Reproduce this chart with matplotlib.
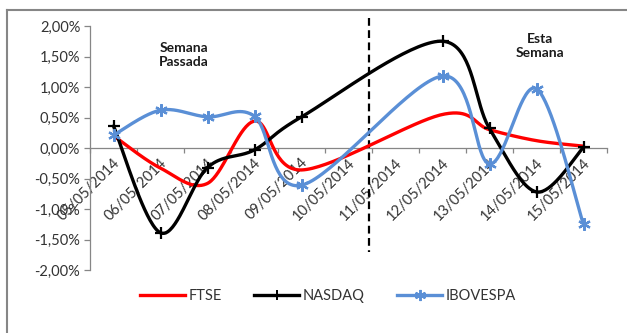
import numpy as np
import matplotlib
matplotlib.use("Agg")
import matplotlib.pyplot as plt
from matplotlib.lines import Line2D
from matplotlib.ticker import FuncFormatter, FixedLocator
import matplotlib.transforms as mtransforms

plt.rcParams['font.family'] = ['Lato', 'DejaVu Sans']

dates = ["05/05/2014", "06/05/2014", "07/05/2014", "08/05/2014", "09/05/2014",
         "10/05/2014", "11/05/2014", "12/05/2014", "13/05/2014", "14/05/2014",
         "15/05/2014"]
ftse = [0.20, -0.33, -0.58, 0.44, -0.36, None, None, 0.55, 0.30, 0.12, 0.03]
nasdaq = [0.36, -1.39, -0.32, -0.03, 0.51, None, None, 1.75, 0.32, -0.72, 0.01]
ibovespa = [0.21, 0.62, 0.51, 0.52, -0.61, None, None, 1.18, -0.26, 0.97, -1.25]

C_RED = "#FF0000"
C_BLK = "#000000"
C_BLU = "#5A8FD6"
GRAY = "#868686"
TXT = "#333333"


def smooth(xs, ys, n=40):
    pts = np.array(list(zip(xs, ys)), dtype=float)
    out = []
    for i in range(len(pts) - 1):
        p0 = pts[i - 1] if i > 0 else pts[i]
        p1 = pts[i]
        p2 = pts[i + 1]
        p3 = pts[i + 2] if i + 2 < len(pts) else pts[i + 1]
        c1 = p1 + (p2 - p0) / 6.0
        c2 = p2 - (p3 - p1) / 6.0
        t = np.linspace(0, 1, n)[:, None]
        seg = ((1 - t) ** 3) * p1 + 3 * ((1 - t) ** 2) * t * c1 + 3 * (1 - t) * t ** 2 * c2 + t ** 3 * p2
        out.append(seg if i == 0 else seg[1:])
    arr = np.vstack(out)
    return arr[:, 0], arr[:, 1]


fig = plt.figure(figsize=(6.27, 3.33), dpi=100)
ax = fig.add_axes([90 / 627, 1 - 270 / 333, (607 - 90) / 627, (270 - 26) / 333])

lw = 2.4
series = [("FTSE", ftse, C_RED, None, 0),
          ("NASDAQ", nasdaq, C_BLK, "+", 8),
          ("IBOVESPA", ibovespa, C_BLU, (6, 2, 0), 9)]
handles = []
for name, vals, col, mk, ms in series:
    xs = [i for i, v in enumerate(vals) if v is not None]
    ys = [v for v in vals if v is not None]
    sx, sy = smooth(xs, ys)
    ax.plot(sx, sy, color=col, lw=lw, solid_capstyle='round', zorder=3)
    if mk is not None:
        ax.plot(xs, ys, linestyle='none', marker=mk, markersize=ms,
                markeredgewidth=1.6, color=col, zorder=4)
    handles.append(Line2D([0], [0], color=col, lw=lw, marker=mk, markersize=ms - 1,
                          markeredgewidth=1.4))

ax.set_xlim(-0.5, 10.5)
ax.set_ylim(-2.0, 2.0)

ax.spines['top'].set_visible(False)
ax.spines['right'].set_visible(False)
ax.spines['bottom'].set_position(('data', 0))
for s in ('left', 'bottom'):
    ax.spines[s].set_color(GRAY)
    ax.spines[s].set_linewidth(0.9)

ax.set_yticks(np.arange(-2.0, 2.01, 0.5))
ax.yaxis.set_major_formatter(FuncFormatter(lambda v, p: f"{v:.2f}%".replace(".", ",")))
ax.tick_params(axis='y', direction='out', length=4, width=0.9, color=GRAY,
               labelsize=10.5, labelcolor=TXT, pad=3)

ax.set_xticks(np.arange(len(dates)))
ax.set_xticklabels(dates)
ax.xaxis.set_minor_locator(FixedLocator(np.arange(-0.5, 10.6, 1.0)))
ax.tick_params(axis='x', which='major', length=0, labelsize=10.5, labelcolor=TXT, pad=9)
ax.tick_params(axis='x', which='minor', direction='out', length=3.5, width=0.9, color=GRAY)
offset = mtransforms.ScaledTranslation(4 / 100, 0, fig.dpi_scale_trans)
for lab in ax.get_xticklabels():
    lab.set_rotation(45)
    lab.set_ha('right')
    lab.set_va('center')
    lab.set_rotation_mode('anchor')
    lab.set_transform(lab.get_transform() + offset)

# dashed separator between weeks
ax.plot([5.43, 5.43], [2.13, -1.70], color='black', lw=1.6, linestyle=(0, (3.5, 2)),
        clip_on=False, zorder=2)

ax.text(1.49, 1.52, "Semana\nPassada", ha='center', va='center', fontsize=10,
        fontweight='bold', color='#1a1a1a', linespacing=1.2)
ax.text(9.07, 1.68, "Esta\nSemana", ha='center', va='center', fontsize=10,
        fontweight='bold', color='#1a1a1a', linespacing=1.2)

fig.legend(handles, [s[0] for s in series], loc='center', ncol=3,
           bbox_to_anchor=(328 / 627, 1 - 296 / 333), frameon=False,
           fontsize=10.5, handlelength=3.1, handletextpad=0.25, columnspacing=2.2,
           numpoints=1, labelcolor=TXT)

# chart border (partially visible)
fig.add_artist(Line2D([7 / 627, 7 / 627], [0, 1 - 10 / 333], color=GRAY, lw=1.5,
                      transform=fig.transFigure))
fig.add_artist(Line2D([7 / 627, 1], [1 - 10 / 333, 1 - 10 / 333], color=GRAY, lw=1.5,
                      transform=fig.transFigure))

fig.savefig("out.png", dpi=100, facecolor='white')
